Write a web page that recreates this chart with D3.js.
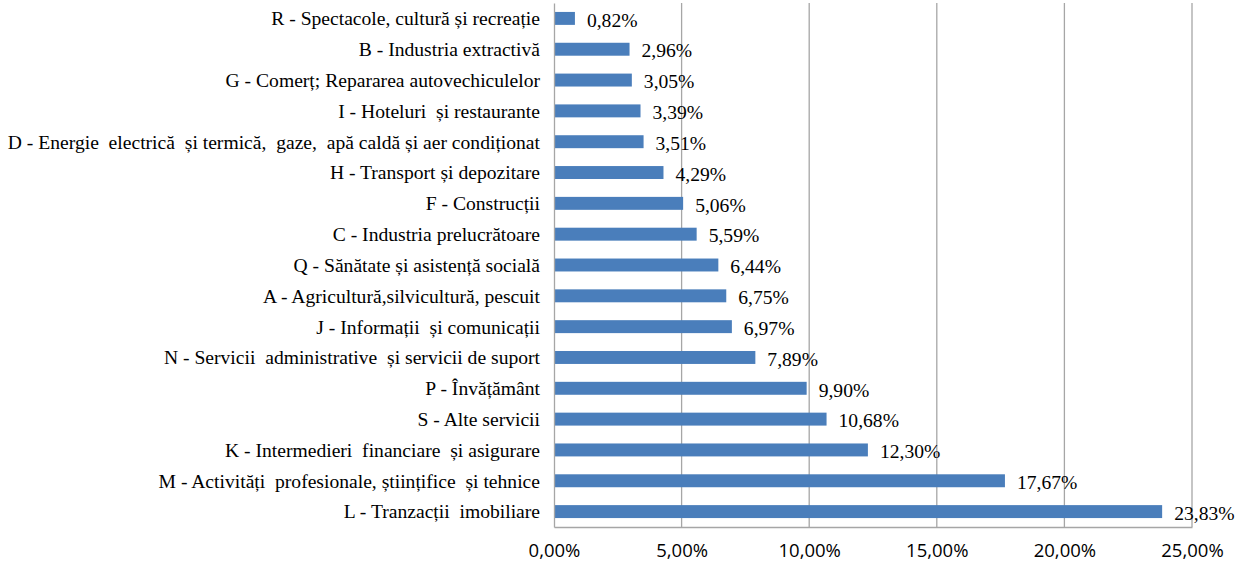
<!DOCTYPE html>
<html>
<head>
<meta charset="utf-8">
<script src="https://cdn.jsdelivr.net/npm/d3@7"></script>
<style>
  body { margin: 0; background: #fff; }
  .cat text { font-family: "Liberation Serif", "Times New Roman", serif; font-size: 19.6px; fill: #000; }
  .x-axis text { font-family: "Open Sans", "Liberation Sans", sans-serif; font-size: 18.5px; fill: #000; }
  .val { font-family: "Liberation Serif", "Times New Roman", serif; font-size: 19.6px; fill: #000; }
</style>
</head>
<body>
<div id="chart"></div>
<script>
// categories, top to bottom
var categories = [
    "R - Spectacole, cultură și recreație",
    "B - Industria extractivă",
    "G - Comerț; Repararea autovechiculelor",
    "I - Hoteluri  și restaurante",
    "D - Energie  electrică  și termică,  gaze,  apă caldă și aer condiționat",
    "H - Transport și depozitare",
    "F - Construcții",
    "C - Industria prelucrătoare",
    "Q - Sănătate și asistență socială",
    "A - Agricultură,silvicultură, pescuit",
    "J - Informații  și comunicații",
    "N - Servicii  administrative  și servicii de suport",
    "P - Învățământ",
    "S - Alte servicii",
    "K - Intermedieri  financiare  și asigurare",
    "M - Activități  profesionale, științifice  și tehnice",
    "L - Tranzacții  imobiliare"
];
var values = [0.82, 2.96, 3.05, 3.39, 3.51, 4.29, 5.06, 5.59, 6.44, 6.75, 6.97, 7.89, 9.90, 10.68, 12.30, 17.67, 23.83];
var tickValues = [0, 5, 10, 15, 20, 25];

var svgWidth = 1248;
var svgHeight = 569;
var margin = { top: 3, right: 56, bottom: 42, left: 554 };
var width = svgWidth - margin.left - margin.right;
var height = svgHeight - margin.top - margin.bottom;

var fmt = function(v) { return v.toFixed(2).replace(".", ",") + "%"; };

var svg = d3.select("#chart")
    .append("svg")
    .attr("width", svgWidth)
    .attr("height", svgHeight);

var chartGroup = svg.append("g")
    .attr("transform", `translate(${margin.left}, ${margin.top})`);

var xScale = d3.scaleLinear().domain([0, 25]).range([0, width]);
var yScale = d3.scaleBand().domain(categories).range([0, height]).paddingInner(0.58).paddingOuter(0.29);

// gridlines
chartGroup.selectAll(".grid")
    .data(tickValues.slice(1))
    .enter()
    .append("line")
    .attr("x1", d => xScale(d))
    .attr("x2", d => xScale(d))
    .attr("y1", 0)
    .attr("y2", height)
    .attr("stroke", "#a6a6a6")
    .attr("stroke-width", 1.3);

// bars
chartGroup.selectAll("rect")
    .data(values)
    .enter()
    .append("rect")
    .attr("x", 0)
    .attr("y", (d, i) => yScale(categories[i]))
    .attr("width", d => xScale(d))
    .attr("height", yScale.bandwidth())
    .attr("fill", "#4a7ebb");

// value labels
chartGroup.selectAll(".val")
    .data(values)
    .enter()
    .append("text")
    .classed("val", true)
    .attr("x", d => xScale(d) + 12)
    .attr("y", (d, i) => yScale(categories[i]) + yScale.bandwidth() / 2)
    .attr("dy", "0.42em")
    .text(d => fmt(d));

// left axis (category labels)
var leftAxis = d3.axisLeft(yScale).tickSize(0).tickPadding(14);
var yAxis = chartGroup.append("g").classed("cat", true).call(leftAxis);
yAxis.select(".domain").attr("stroke", "#a6a6a6").attr("stroke-width", 1.3);
yAxis.selectAll("text").style("white-space", "pre").attr("dy", "0.35em");

// bottom axis
var bottomAxis = d3.axisBottom(xScale).tickValues(tickValues).tickSize(0).tickPadding(17).tickFormat(fmt);
var xAxis = chartGroup.append("g")
    .classed("x-axis", true)
    .attr("transform", `translate(0, ${height})`)
    .call(bottomAxis);
xAxis.select(".domain").attr("stroke", "#a6a6a6").attr("stroke-width", 1.3);
</script>
</body>
</html>
